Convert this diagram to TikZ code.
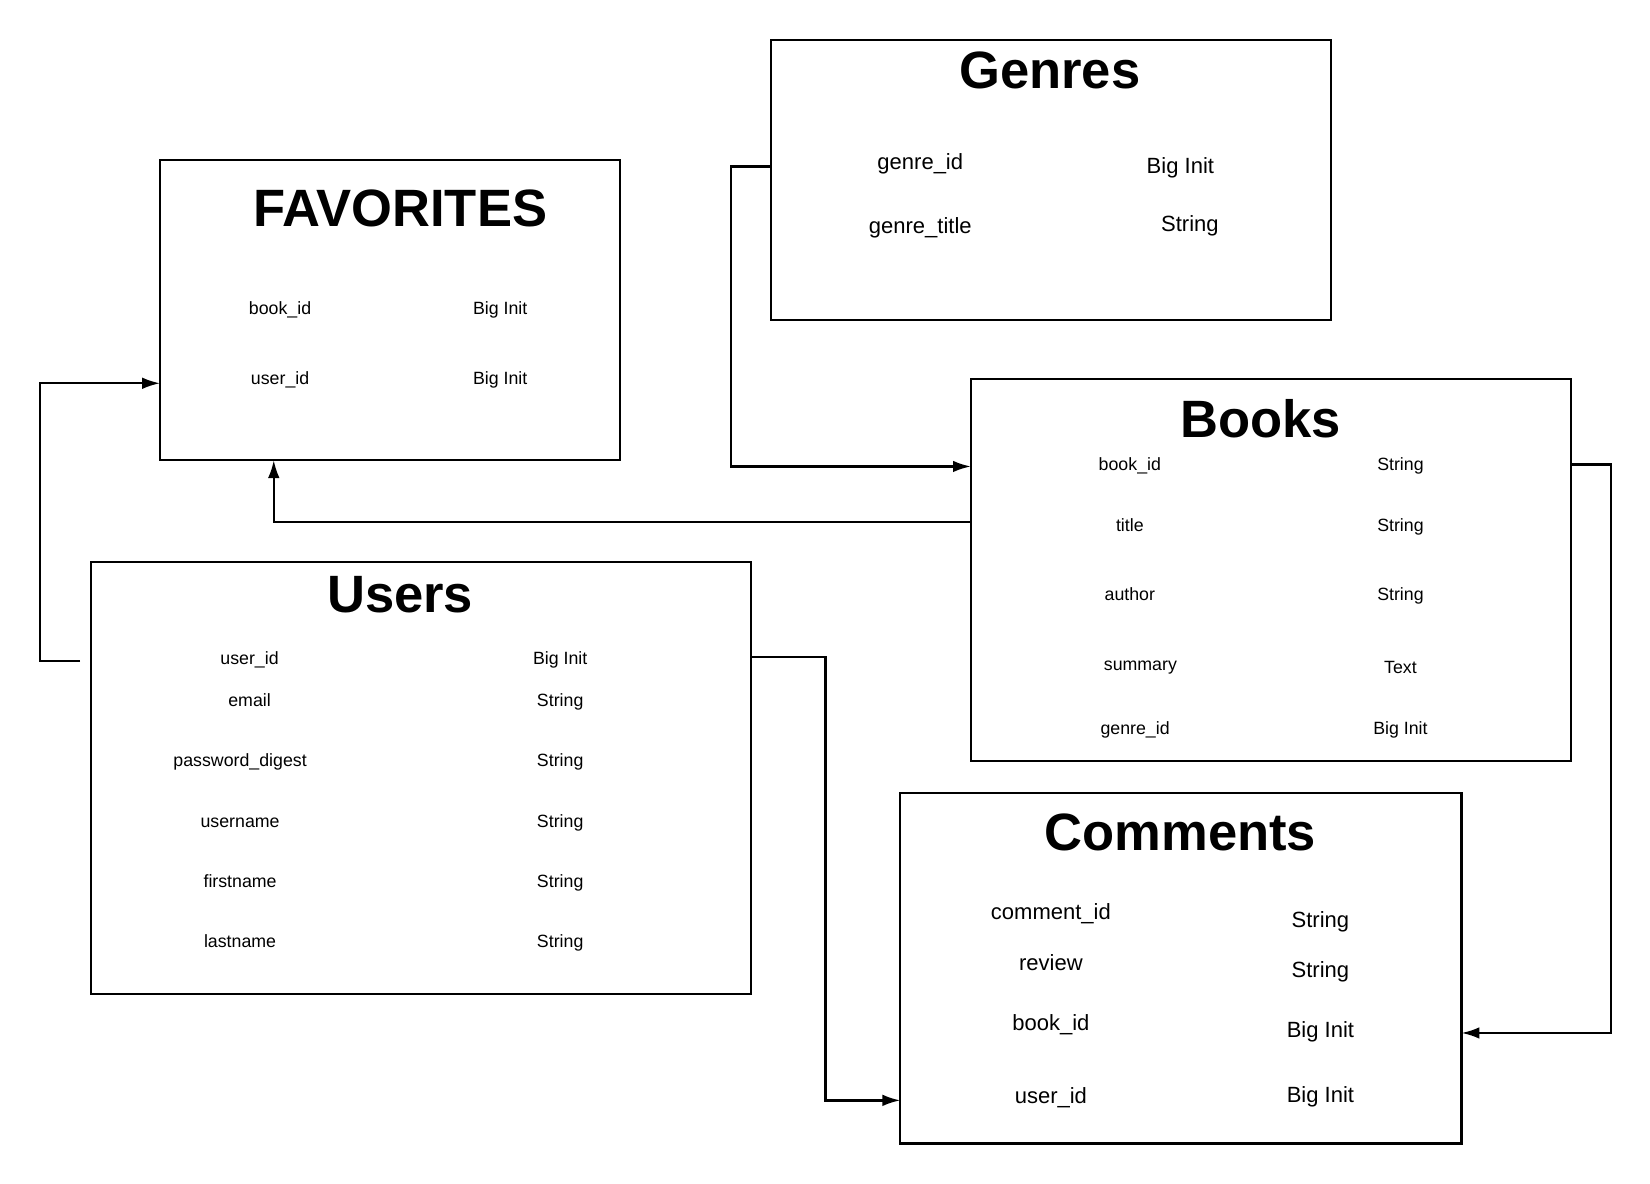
\documentclass[tikz,border=0pt]{standalone}
\usepackage{fontspec}
\setmainfont{Liberation Sans}
\usetikzlibrary{arrows.meta}
\tikzset{
  tbl/.style={draw, line width=1.1pt, inner sep=0pt, outer sep=0pt},
  ttl/.style={font=\bfseries\fontsize{28.4}{30}\selectfont, inner sep=0pt},
  sm/.style={font=\fontsize{9.6}{11}\selectfont, inner sep=1pt, text height=0.73em, text depth=0pt},
  md/.style={font=\fontsize{11.9}{14}\selectfont, inner sep=1pt, text height=0.73em, text depth=0pt},
  arr/.style={line width=1.25pt, -{Latex[length=0.34cm,width=0.22cm]}},
}
\begin{document}
\begin{tikzpicture}[x=0.02cm,y=-0.02cm]
\useasboundingbox (0,0) rectangle (1567,1124);
% tables
\node[tbl, minimum width=8.74cm, minimum height=5.70cm] (fav) at (370.5,294.5) {};
\node[tbl, minimum width=10.64cm, minimum height=5.32cm] (genres) at (998,171) {};
\node[tbl, minimum width=11.40cm, minimum height=7.26cm] (books) at (1207,541.5) {};
\node[tbl, minimum width=12.54cm, minimum height=8.20cm] (users) at (399.5,739) {};
\node[tbl, minimum width=10.66cm, minimum height=6.66cm] (comments) at (1121.5,919.5) {};
% FAVORITES
\node[ttl] (favT) at (380,198) {FAVORITES};
\node[sm] (fav1a) at (266,292) {book\_id};
\node[sm] (fav1b) at (475,292) {Big Init};
\node[sm] (fav2a) at (266,359) {user\_id};
\node[sm] (fav2b) at (475,359) {Big Init};
% Genres
\node[ttl] (genT) at (997,67) {Genres};
\node[md] (gen1a) at (874,155) {genre\_id};
\node[md] (gen1b) at (1121,158) {Big Init};
\node[md] (gen2a) at (874,215) {genre\_title};
\node[md] (gen2b) at (1130,213) {String};
% Books
\node[ttl] (bookT) at (1197,398) {Books};
\node[sm] (b1a) at (1073,440) {book\_id};
\node[sm] (b1b) at (1330,440) {String};
\node[sm] (b2a) at (1073,498) {title};
\node[sm] (b2b) at (1330,498) {String};
\node[sm] (b3a) at (1073,564) {author};
\node[sm] (b3b) at (1330,564) {String};
\node[sm] (b4a) at (1083,630) {summary};
\node[sm] (b4b) at (1330,633) {Text};
\node[sm] (b5a) at (1078,691) {genre\_id};
\node[sm] (b5b) at (1330,691) {Big Init};
% Users
\node[ttl] (userT) at (380,565) {Users};
\node[sm] (u1a) at (237,625) {user\_id};
\node[sm] (u1b) at (532,625) {Big Init};
\node[sm] (u2a) at (237,665) {email};
\node[sm] (u2b) at (532,665) {String};
\node[sm] (u3a) at (228,722) {password\_digest};
\node[sm] (u3b) at (532,722) {String};
\node[sm] (u4a) at (228,779) {username};
\node[sm] (u4b) at (532,779) {String};
\node[sm] (u5a) at (228,836) {firstname};
\node[sm] (u5b) at (532,836) {String};
\node[sm] (u6a) at (228,893) {lastname};
\node[sm] (u6b) at (532,893) {String};
% Comments
\node[ttl] (comT) at (1121,791) {Comments};
\node[md] (c1a) at (998,867) {comment\_id};
\node[md] (c1b) at (1254,874) {String};
\node[md] (c2a) at (998,915) {review};
\node[md] (c2b) at (1254,922) {String};
\node[md] (c3a) at (998,972) {book\_id};
\node[md] (c3b) at (1254,979) {Big Init};
\node[md] (c4a) at (998,1042) {user\_id};
\node[md] (c4b) at (1254,1041) {Big Init};
% connectors
\coordinate (ustart) at (76,628);
\draw[arr] (ustart) -- (38,628) |- (fav.west |- 0,364);
\draw[arr] (books.west |- 0,496) -| (fav.south -| 260,0);
\draw[arr] (genres.west |- 0,158) -- (694,158) |- (books.west |- 0,443);
\draw[arr] (users.east |- 0,624) -- (784,624) |- (comments.west |- 0,1045);
\draw[arr] (books.east |- 0,441) -- (1530,441) |- (comments.east |- 0,981);
\end{tikzpicture}
\end{document}
